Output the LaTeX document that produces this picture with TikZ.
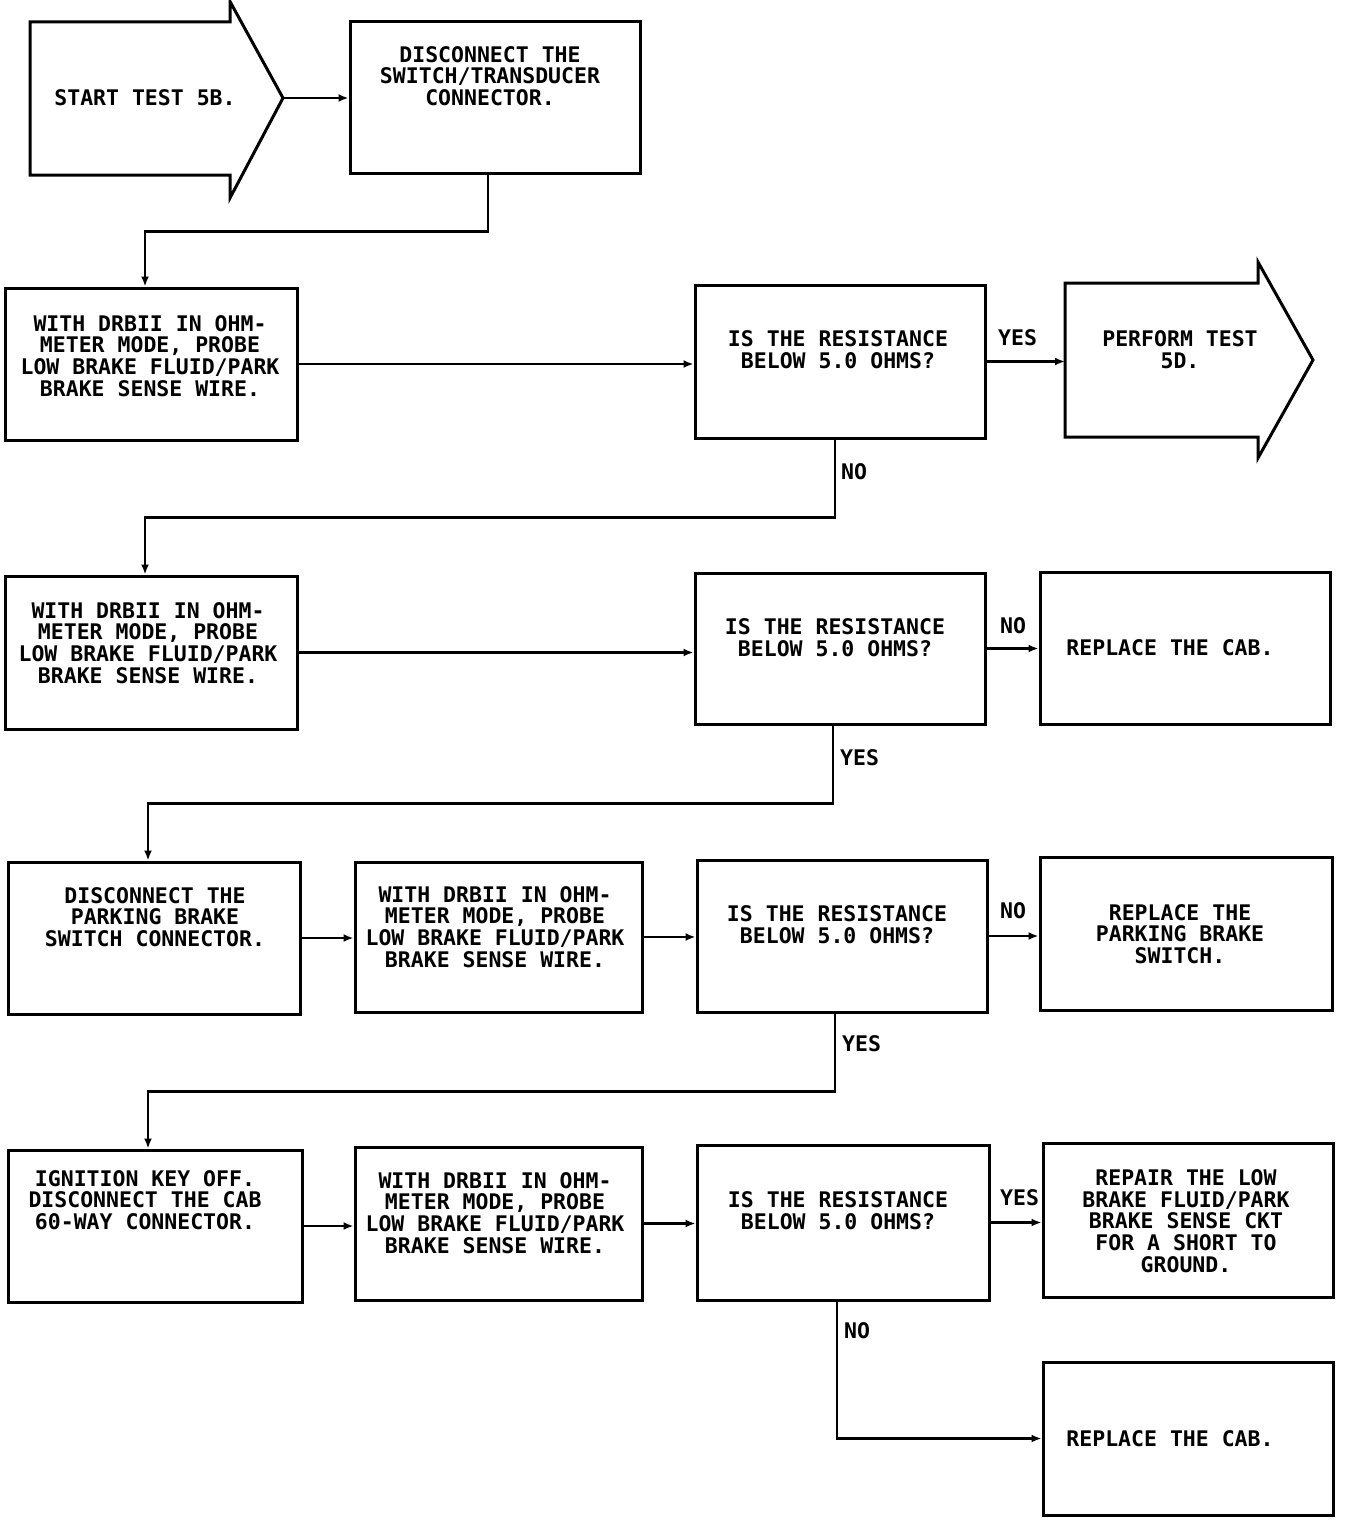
\documentclass[tikz,border=0pt]{standalone}
\usepackage{fontspec}
\newfontfamily\plotfont{DejaVu Sans Mono}
\usetikzlibrary{arrows.meta,calc}
\begin{document}
\begin{tikzpicture}[x=1pt,y=-1pt,
  box/.style={draw, line width=3pt, rectangle, inner sep=0pt},
  txt/.style={inner sep=0pt, align=center, font=\plotfont\bfseries\fontsize{21.5}{21.8}\selectfont},
  lbl/.style={inner sep=0pt, anchor=west, font=\plotfont\bfseries\fontsize{21.5}{21.8}\selectfont},
  arr/.style={line width=2.8pt, -{Latex[length=10pt,width=8pt]}},
  line join=miter]
\useasboundingbox (0,0) rectangle (1344,1520);
% start arrow
\draw[line width=3pt] (30,22) -- (230,22) -- (230,1.5) -- (283,98) -- (230,198) -- (230,175) -- (30,175) -- cycle;
\coordinate (starttip) at (283,98);
\node[txt] (t0) at (145,98) {START TEST 5B.};
% perform arrow
\draw[line width=3pt] (1065,283) -- (1258,283) -- (1258,262) -- (1313,360) -- (1258,458) -- (1258,437) -- (1065,437) -- cycle;
\coordinate (perftail) at (1065,362);
\node[txt] (tp) at (1180,350) {PERFORM TEST\\5D.};
% boxes
\node[box, minimum width=290pt, minimum height=151pt] (b2) at (495,97.5) {};
\node[box, minimum width=292pt, minimum height=152pt] (b3) at (151,364) {};
\node[box, minimum width=290pt, minimum height=153pt] (d1) at (840,361.5) {};
\node[box, minimum width=292pt, minimum height=153pt] (b5) at (151,652.5) {};
\node[box, minimum width=290pt, minimum height=151pt] (d2) at (840,648.5) {};
\node[box, minimum width=290pt, minimum height=152pt] (r1) at (1185,648) {};
\node[box, minimum width=292pt, minimum height=152pt] (b7) at (154,938) {};
\node[box, minimum width=287pt, minimum height=150pt] (b8) at (498.5,937) {};
\node[box, minimum width=290pt, minimum height=152pt] (d3) at (842,936) {};
\node[box, minimum width=292pt, minimum height=153pt] (r3) at (1186,933.5) {};
\node[box, minimum width=294pt, minimum height=152pt] (b9) at (155,1226) {};
\node[box, minimum width=287pt, minimum height=153pt] (b10) at (498.5,1223.5) {};
\node[box, minimum width=292pt, minimum height=155pt] (d4) at (843,1222.5) {};
\node[box, minimum width=290pt, minimum height=154pt] (r4) at (1188,1220) {};
\node[box, minimum width=290pt, minimum height=153pt] (r5) at (1188,1438.5) {};
% texts
\node[txt] (t2) at (490,76) {DISCONNECT THE\\SWITCH/TRANSDUCER\\CONNECTOR.};
\node[txt] (t3) at (150,356) {WITH DRBII IN OHM-\\METER MODE, PROBE\\LOW BRAKE FLUID/PARK\\BRAKE SENSE WIRE.};
\node[txt] (td1) at (838,350) {IS THE RESISTANCE\\BELOW 5.0 OHMS?};
\node[txt] (t5) at (148,643) {WITH DRBII IN OHM-\\METER MODE, PROBE\\LOW BRAKE FLUID/PARK\\BRAKE SENSE WIRE.};
\node[txt] (td2) at (835,638) {IS THE RESISTANCE\\BELOW 5.0 OHMS?};
\node[txt] (tr1) at (1170,648) {REPLACE THE CAB.};
\node[txt] (t7) at (155,917) {DISCONNECT THE\\PARKING BRAKE\\SWITCH CONNECTOR.};
\node[txt] (t8) at (495,927) {WITH DRBII IN OHM-\\METER MODE, PROBE\\LOW BRAKE FLUID/PARK\\BRAKE SENSE WIRE.};
\node[txt] (td3) at (837,925) {IS THE RESISTANCE\\BELOW 5.0 OHMS?};
\node[txt] (tr3) at (1180,934) {REPLACE THE\\PARKING BRAKE\\SWITCH.};
\node[txt] (t9) at (145,1200) {IGNITION KEY OFF.\\DISCONNECT THE CAB\\60-WAY CONNECTOR.};
\node[txt] (t10) at (495,1213) {WITH DRBII IN OHM-\\METER MODE, PROBE\\LOW BRAKE FLUID/PARK\\BRAKE SENSE WIRE.};
\node[txt] (td4) at (838,1211) {IS THE RESISTANCE\\BELOW 5.0 OHMS?};
\node[txt] (tr4) at (1186,1221) {REPAIR THE LOW\\BRAKE FLUID/PARK\\BRAKE SENSE CKT\\FOR A SHORT TO\\GROUND.};
\node[txt] (tr5) at (1170,1439) {REPLACE THE CAB.};
% connectors
\draw[arr] (starttip) -- (starttip -| b2.west);
\draw[arr] ([xshift=-7pt]b2.south) -- ++(0,57) -| ([xshift=-6pt]b3.north);
\draw[arr] (b3.east) -- (b3.east -| d1.west);
\draw[arr] (d1.east) -- (d1.east -| perftail);
\draw[arr] ([xshift=-5pt]d1.south) -- ++(0,78) -| ([xshift=-6pt]b5.north);
\draw[arr] (b5.east) -- (b5.east -| d2.west);
\draw[arr] (d2.east) -- (d2.east -| r1.west);
\draw[arr] ([xshift=-7pt]d2.south) -- ++(0,78) -| ([xshift=-6pt]b7.north);
\draw[arr] (b7.east) -- (b7.east -| b8.west);
\draw[arr] (b8.east) -- (b8.east -| d3.west);
\draw[arr] (d3.east) -- (d3.east -| r3.west);
\draw[arr] ([xshift=-7pt]d3.south) -- ++(0,78) -| ([xshift=-7pt]b9.north);
\draw[arr] (b9.east) -- (b9.east -| b10.west);
\draw[arr] (b10.east) -- (b10.east -| d4.west);
\draw[arr] (d4.east) -- (d4.east -| r4.west);
\draw[arr] ([xshift=-6pt]d4.south) |- (r5.west);
% labels
\node[lbl] (l1) at (998,338) {YES};
\node[lbl] (l2) at (841,472) {NO};
\node[lbl] (l3) at (1000,626) {NO};
\node[lbl] (l4) at (840,758) {YES};
\node[lbl] (l5) at (1000,911) {NO};
\node[lbl] (l6) at (842,1044) {YES};
\node[lbl] (l7) at (1000,1198) {YES};
\node[lbl] (l8) at (844,1331) {NO};
\end{tikzpicture}
\end{document}
